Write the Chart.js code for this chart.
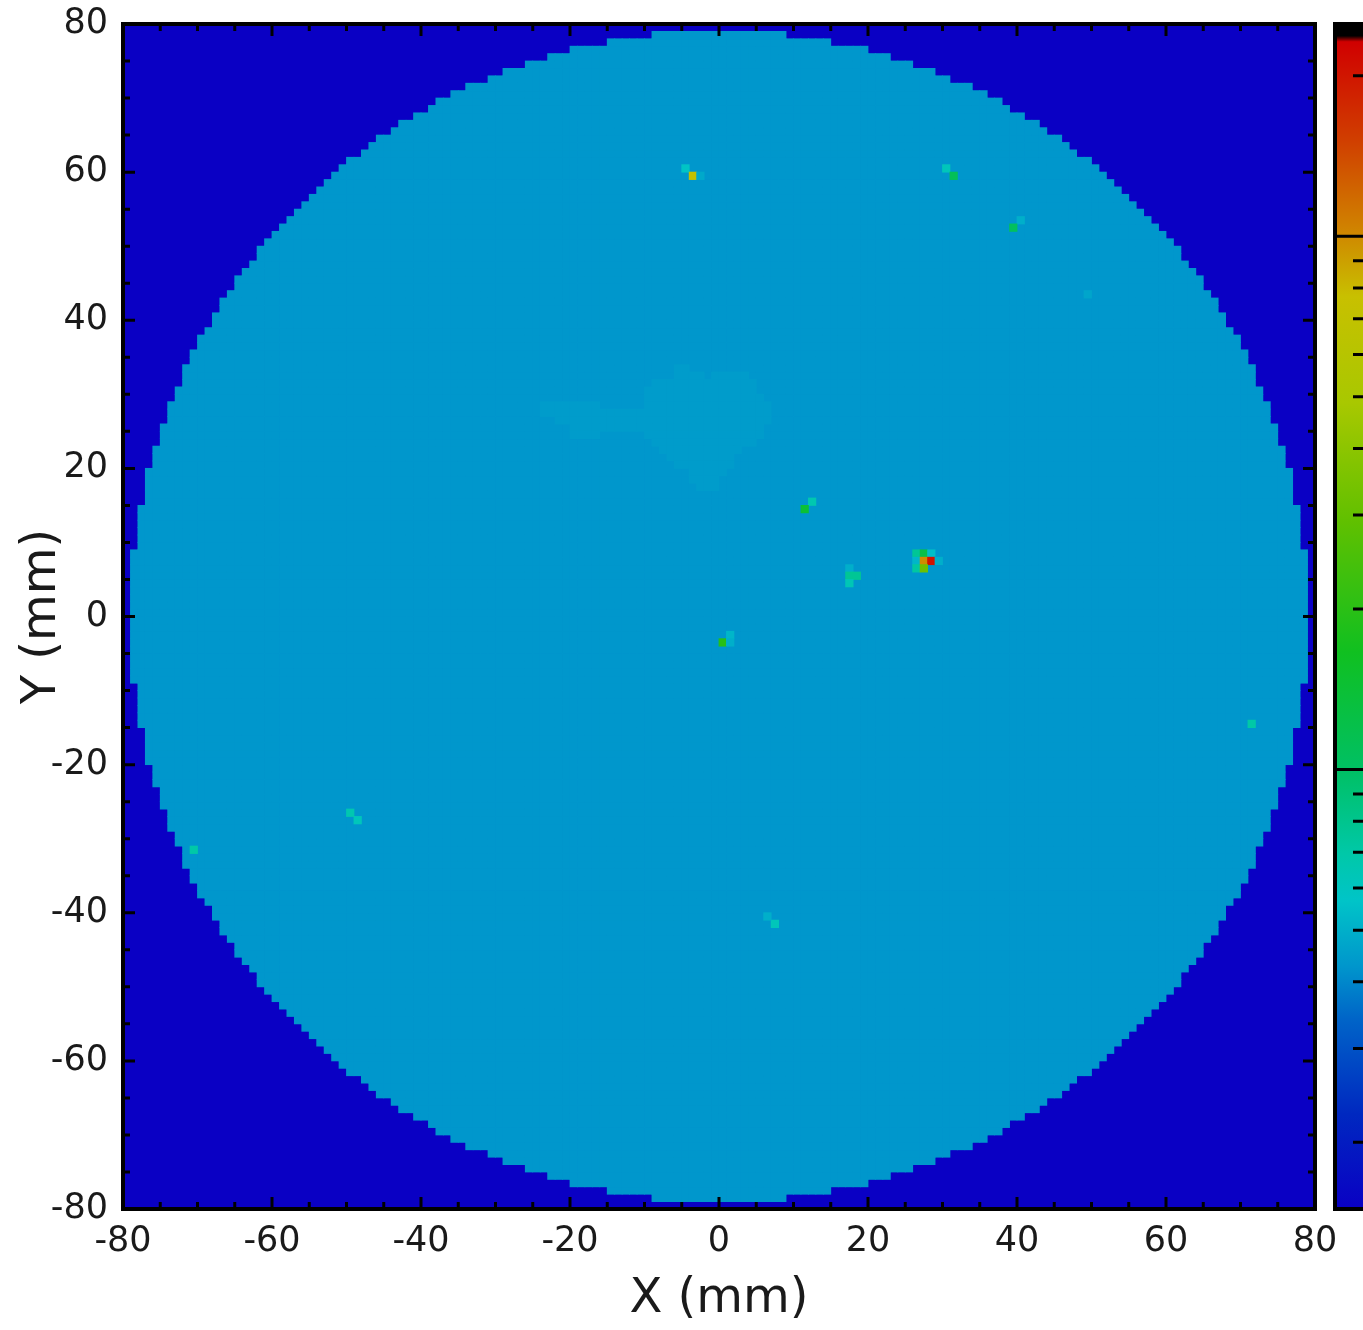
<!DOCTYPE html>
<html>
<head>
<meta charset="utf-8">
<script src="https://cdn.jsdelivr.net/npm/chart.js@4.4.0/dist/chart.umd.min.js"></script>
<style>
  html, body { margin: 0; padding: 0; background: #fff; overflow: hidden; }
</style>
</head>
<body>
<canvas id="map" width="1363" height="1330"></canvas>
<script>
// axes (mm)
const axisTicks = [-80, -60, -40, -20, 0, 20, 40, 60, 80];

// detector disk, 1 mm cells
const diskRadius = 79;
const outsideLevel = 0.15;
const diskLevel = 0.43;
const cloudLevel = 0.445;

// slightly brighter patch: [row y, first x cell, last x cell]
const cloudRows = [
  [33, -6, -5],
  [32, -6, -3], [32, -1, 3],
  [31, -9, 4],
  [30, -10, 4],
  [29, -10, 5],
  [28, -24, -17], [28, -10, 6],
  [27, -24, 6],
  [26, -22, 6],
  [25, -20, 5],
  [24, -20, -17], [24, -10, 5],
  [23, -9, 4],
  [22, -8, 2],
  [21, -7, 1],
  [20, -6, 1],
  [19, -4, 0],
  [18, -4, -1],
  [17, -3, -1]
];

// hot cells: x cell, y cell, level
const hotX = [-5, -4, -3, 30, 31, 40, 39, 49, 12, 11, 17, 17, 18, 17, 26, 27, 28, 26, 27, 28, 29, 26, 27, 0, 1, 1, -50, -49, -71, 71, 7, 6];
const hotY = [60, 59, 59, 60, 59, 53, 52, 43, 15, 14, 6, 5, 5, 4, 8, 8, 8, 7, 7, 7, 7, 6, 6, -4, -3, -4, -27, -28, -32, -15, -42, -41];
const hotV = [0.58, 7.3, 0.48, 0.62, 1.1, 0.5, 1.05, 0.47, 0.66, 1.42, 0.5, 0.77, 0.77, 0.64, 0.77, 1.22, 0.55, 0.52, 9.9, 20.3, 0.5, 0.72, 3.2, 1.94, 0.52, 0.5, 0.66, 0.62, 0.7, 0.7, 0.62, 0.5];

// colour bar (log)
const barMin = 0.15;
const barMax = 25;
const barMajor = [1, 10];
const barMinor = [0.2, 0.3, 0.4, 0.5, 0.6, 0.7, 0.8, 0.9, 2, 3, 4, 5, 6, 7, 8, 9, 20];
const barStops = [
  [0.000, [10, 0, 196]],
  [0.080, [0, 40, 192]],
  [0.160, [0, 100, 200]],
  [0.205, [0, 150, 204]],
  [0.260, [0, 196, 200]],
  [0.300, [0, 200, 168]],
  [0.370, [0, 192, 100]],
  [0.470, [16, 192, 32]],
  [0.580, [96, 192, 0]],
  [0.680, [168, 200, 0]],
  [0.770, [200, 192, 0]],
  [0.830, [208, 128, 0]],
  [0.900, [208, 64, 0]],
  [0.985, [208, 0, 0]],
  [0.990, [0, 0, 0]],
  [1.000, [0, 0, 0]]
];

function colorAtFraction(f) {
  f = Math.min(1, Math.max(0, f));
  for (let i = 1; i < barStops.length; i++) {
    const [f1, c1] = barStops[i];
    if (f <= f1) {
      const [f0, c0] = barStops[i - 1];
      const t = f1 === f0 ? 0 : (f - f0) / (f1 - f0);
      const c = c0.map((v, k) => Math.round(v + (c1[k] - v) * t));
      return `rgb(${c[0]},${c[1]},${c[2]})`;
    }
  }
  return 'rgb(0,0,0)';
}

function colorOf(v) {
  return colorAtFraction(Math.log(v / barMin) / Math.log(barMax / barMin));
}

// build the cells
const diskCells = [];
const spotCells = [];
for (let i = -80; i < 80; i++) {
  for (let j = -80; j < 80; j++) {
    const cx = i + 0.5, cy = j + 0.5;
    if (cx * cx + cy * cy <= diskRadius * diskRadius) {
      diskCells.push({x: cx, y: cy, v: diskLevel});
    }
  }
}
cloudRows.forEach(([row, from, to]) => {
  for (let i = from; i <= to; i++) {
    spotCells.push({x: i + 0.5, y: row + 0.5, v: cloudLevel});
  }
});
hotX.forEach((hx, k) => {
  spotCells.push({x: hx + 0.5, y: hotY[k] + 0.5, v: hotV[k]});
});

// half-diagonal of one cell so that 'rect' points tile the map
function cellRadius(ctx) {
  const {x, y} = ctx.chart.scales;
  const w = Math.abs(x.getPixelForValue(1) - x.getPixelForValue(0));
  const h = Math.abs(y.getPixelForValue(1) - y.getPixelForValue(0));
  return (Math.max(w, h) / 2 + 0.4) * Math.SQRT2;
}

const frame = {
  id: 'frame',
  beforeDatasetsDraw(chart) {
    const {ctx, chartArea: a} = chart;
    ctx.save();
    ctx.fillStyle = colorOf(outsideLevel);
    ctx.fillRect(a.left, a.top, a.width, a.height);
    ctx.restore();
  },
  afterDatasetsDraw(chart) {
    const {ctx, chartArea: a, scales: {x, y}} = chart;
    ctx.save();
    ctx.strokeStyle = '#000';
    ctx.lineWidth = 3;
    ctx.beginPath();
    for (let v = -75; v < 80; v += 5) {
      const len = v % 20 === 0 ? 12 : 7;
      const px = x.getPixelForValue(v);
      const py = y.getPixelForValue(v);
      ctx.moveTo(px, a.bottom); ctx.lineTo(px, a.bottom - len);
      ctx.moveTo(px, a.top); ctx.lineTo(px, a.top + len);
      ctx.moveTo(a.left, py); ctx.lineTo(a.left + len, py);
      ctx.moveTo(a.right, py); ctx.lineTo(a.right - len, py);
    }
    ctx.stroke();
    ctx.lineWidth = 4;
    ctx.strokeRect(a.left, a.top, a.width, a.height);
    ctx.restore();
  },
  afterDraw(chart) {
    // colour bar on the right, runs off the page edge
    const {ctx, chartArea: a, scales: {c}} = chart;
    const left = a.right + 20, right = left + 40;
    ctx.save();
    const g = ctx.createLinearGradient(0, a.bottom, 0, a.top);
    barStops.forEach(([f, col]) => g.addColorStop(f, `rgb(${col[0]},${col[1]},${col[2]})`));
    ctx.fillStyle = g;
    ctx.fillRect(left, a.top, right - left, a.height);
    ctx.strokeStyle = '#000';
    ctx.lineWidth = 3;
    ctx.beginPath();
    barMajor.forEach(v => {
      const py = c.getPixelForValue(v);
      ctx.moveTo(left, py); ctx.lineTo(right, py);
    });
    barMinor.forEach(v => {
      const py = c.getPixelForValue(v);
      ctx.moveTo(right - 22, py); ctx.lineTo(right, py);
    });
    ctx.stroke();
    ctx.lineWidth = 4;
    ctx.strokeRect(left, a.top, right - left, a.height);
    ctx.restore();
  }
};

const tickFont = {family: 'DejaVu Sans', size: 35};
const titleFont = {family: 'DejaVu Sans', size: 48};

new Chart(document.getElementById('map'), {
  type: 'scatter',
  data: {
    datasets: [{
      label: 'spots',
      data: spotCells,
      order: 1,
      pointStyle: 'rect',
      radius: cellRadius,
      borderWidth: 0,
      backgroundColor: c => colorOf(c.raw ? c.raw.v : diskLevel)
    }, {
      label: 'disk',
      data: diskCells,
      order: 2,
      pointStyle: 'rect',
      radius: cellRadius,
      borderWidth: 0,
      backgroundColor: colorOf(diskLevel)
    }]
  },
  options: {
    responsive: false,
    animation: false,
    events: [],
    layout: {padding: {top: 24, right: 48, left: 0, bottom: 0}},
    plugins: {legend: {display: false}, tooltip: {enabled: false}},
    scales: {
      x: {
        type: 'linear', min: -80, max: 80,
        afterBuildTicks: s => { s.ticks = axisTicks.map(v => ({value: v})); },
        afterFit: s => { s.height = 121; s.paddingLeft = 0; s.paddingRight = 0; },
        grid: {display: false, drawTicks: false},
        border: {display: false},
        ticks: {font: tickFont, color: '#1a1a1a', padding: 12, maxRotation: 0},
        title: {display: true, text: 'X (mm)', font: titleFont, color: '#1a1a1a', padding: {top: 0, bottom: 2}}
      },
      y: {
        type: 'linear', min: -80, max: 80,
        afterBuildTicks: s => { s.ticks = axisTicks.map(v => ({value: v})); },
        afterFit: s => { s.width = 123; s.paddingTop = 0; s.paddingBottom = 0; },
        grid: {display: false, drawTicks: false},
        border: {display: false},
        ticks: {font: tickFont, color: '#1a1a1a', padding: 15},
        title: {display: true, text: 'Y (mm)', font: titleFont, color: '#1a1a1a', padding: {top: 14, bottom: 0}}
      },
      c: {
        type: 'logarithmic', position: 'right', display: false,
        min: barMin, max: barMax
      }
    }
  },
  plugins: [frame]
});
</script>
</body>
</html>
